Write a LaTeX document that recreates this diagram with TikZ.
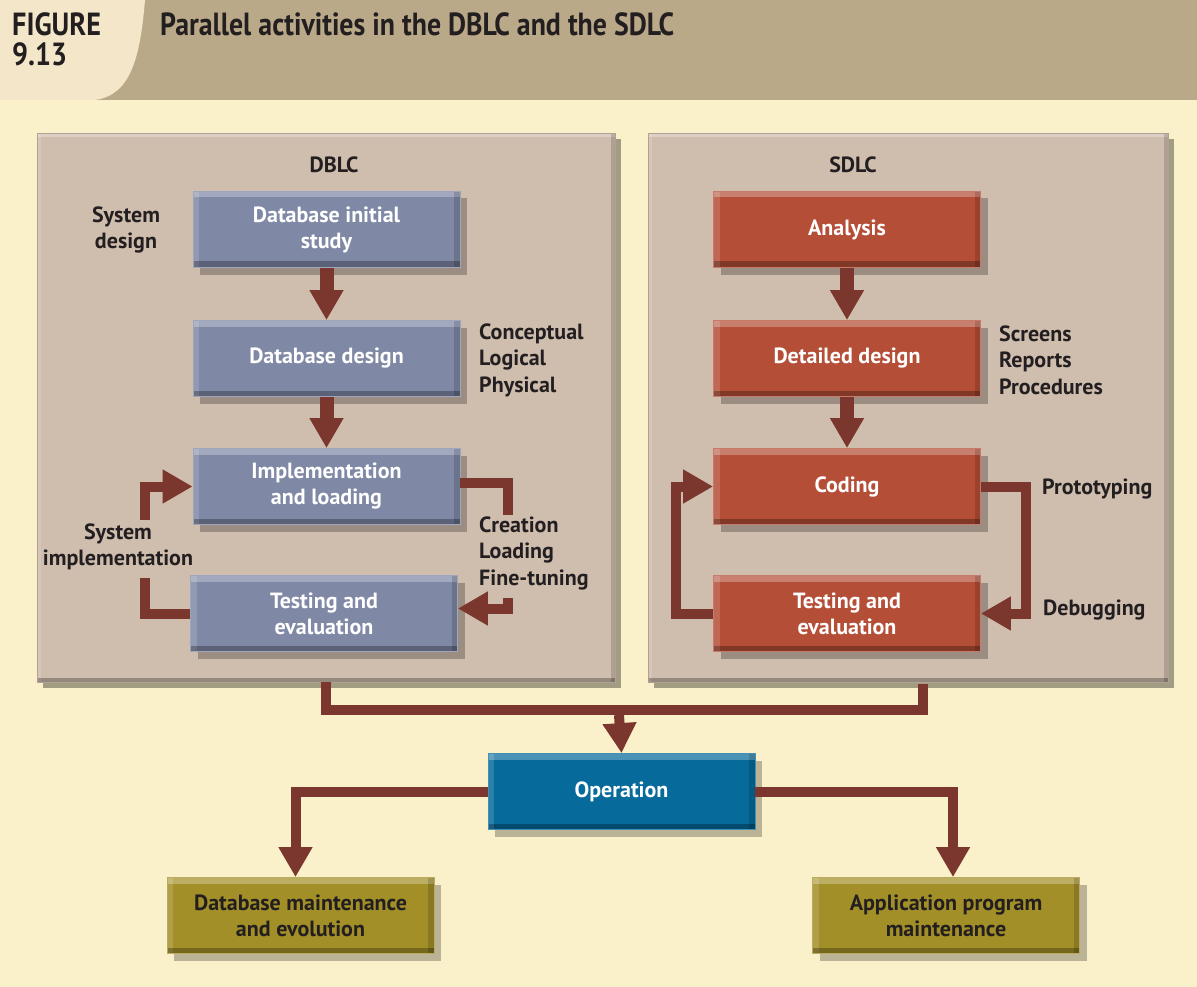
\documentclass[tikz,border=0pt]{standalone}
\usepackage{fontspec}
\setmainfont{PT Sans}
\usetikzlibrary{arrows.meta,shadows,calc}
\definecolor{bgc}{HTML}{FAF0C9}
\definecolor{hdr}{HTML}{BAA989}
\definecolor{hdrl}{HTML}{F3E6C9}
\definecolor{panelc}{HTML}{CFBDAE}
\definecolor{bluec}{HTML}{7F88A5}
\definecolor{redc}{HTML}{B54E37}
\definecolor{opc}{HTML}{066A9B}
\definecolor{olivec}{HTML}{A38F28}
\definecolor{arrc}{HTML}{7B372D}
\definecolor{txtc}{HTML}{231F20}
\begin{document}
\begin{tikzpicture}[x=1pt,y=-1pt,
  bevel/.style={path picture={
    \fill[white,opacity=0.28] (path picture bounding box.north west) rectangle ([yshift=-#1]path picture bounding box.north east);
    \fill[white,opacity=0.15] (path picture bounding box.north west) rectangle ([xshift=#1]path picture bounding box.south west);
    \fill[black,opacity=0.28] ([yshift=#1]path picture bounding box.south west) rectangle (path picture bounding box.south east);
    \fill[black,opacity=0.15] ([xshift=-#1]path picture bounding box.north east) rectangle (path picture bounding box.south east);
  }},
  bx/.style={fill=#1, draw=#1!75!white, line width=0.8pt, minimum width=267pt, minimum height=76pt,
    inner sep=0pt, text=white, font=\bfseries\fontsize{22}{26}\selectfont, align=center,
    drop shadow={shadow xshift=7pt, shadow yshift=-7pt, fill=black, opacity=0.25}, bevel=6pt},
  panel/.style={fill=panelc, draw=panelc!85!black, line width=0.8pt, inner sep=0pt,
    drop shadow={shadow xshift=6pt, shadow yshift=-6pt, fill=black, opacity=0.35}, bevel=4pt},
  lbl/.style={text=txtc, font=\bfseries\fontsize{22}{26.5}\selectfont, inner sep=0pt},
  hdrtxt/.style={anchor=base west, text=txtc, inner sep=0pt, font=\bfseries\fontsize{32}{30}\selectfont},
  conn/.style={draw=arrc, line width=10pt, line join=miter},
  vconn/.style={draw=arrc, line width=14pt},
  tipa/.style={-{Triangle[width=32pt,length=30pt]}}
]
\useasboundingbox (0,0) rectangle (1197,987);
\fill[bgc] (0,0) rectangle (1197,987);
\fill[hdr] (0,0) rectangle (1197,100);
\fill[hdrl] (0,0) -- (145,0) .. controls (140,60) and (130,95) .. (95,100) -- (0,100) -- cycle;
\node[hdrtxt] (fig) at (12,36) {\scalebox{0.88}[1]{FIGURE}};
\node[hdrtxt] (fignum) at (12,66) {\scalebox{0.88}[1]{9.13}};
\node[hdrtxt] (title) at (160,36) {\scalebox{0.87}[1]{Parallel activities in the DBLC and the SDLC}};

% panels
\node[panel, minimum width=578pt, minimum height=549pt] (dblc) at (326,407.5) {};
\node[panel, minimum width=520pt, minimum height=549pt] (sdlc) at (908,407.5) {};
\node[lbl] (dblct) at (334,165) {DBLC};
\node[lbl] (sdlct) at (853,165) {SDLC};

% DBLC boxes
\node[bx=bluec] (b1) at (326.5,229.5) {Database initial\\study};
\node[bx=bluec] (b2) at (326.5,358.5) {Database design};
\node[bx=bluec] (b3) at (326.5,486.5) {Implementation\\and loading};
\node[bx=bluec] (b4) at (324,613.5) {Testing and\\evaluation};
% SDLC boxes
\node[bx=redc] (s1) at (847,229.5) {Analysis};
\node[bx=redc] (s2) at (847,358.5) {Detailed design};
\node[bx=redc] (s3) at (847,486.5) {Coding};
\node[bx=redc] (s4) at (847,613.5) {Testing and\\evaluation};
% bottom boxes
\node[bx=opc] (op) at (621.5,791.5) {Operation};
\node[bx=olivec, text=txtc] (db) at (300.5,915.5) {Database maintenance\\and evolution};
\node[bx=olivec, text=txtc] (ap) at (946,915.5) {Application program\\maintenance};

% labels
\node[lbl, align=center] (sysd) at (126,230) {System\\design};
\node[lbl, align=left, anchor=west] (clp) at (479,360) {Conceptual\\Logical\\Physical};
\node[lbl, align=left, anchor=west] (srp) at (999,360) {Screens\\Reports\\Procedures};
\node[lbl, align=left, anchor=west] (clf) at (479,553) {Creation\\Loading\\Fine-tuning};
\node[lbl, align=center] (sysi) at (118,547) {System\\implementation};
\node[lbl, anchor=west] (proto) at (1042,489) {Prototyping};
\node[lbl, anchor=west] (debug) at (1043,610) {Debugging};

% vertical arrows
\draw[vconn, tipa] (b1.south) -- (b2.north);
\draw[vconn, tipa] (b2.south) -- (b3.north);
\draw[vconn, tipa] (s1.south) -- (s2.north);
\draw[vconn, tipa] (s2.south) -- (s3.north);

% DBLC loops
\coordinate (dlu) at (145,520);
\coordinate (dll) at (145,578);
\coordinate (dru) at (508,515);
\coordinate (drl) at (508,598);
\draw[conn, tipa] (dlu) |- (b3.west);
\draw[conn] (b4.west) -| (dll);
\draw[conn] ([yshift=4pt]b3.east) -| (dru);
\draw[conn, tipa] (drl) |- ([yshift=5pt]b4.east);

% SDLC loops
\coordinate (sl) at (676,550);
\coordinate (sr) at (1026,550);
\draw[conn, tipa] (s4.west) -| (sl) |- (s3.west);
\draw[conn, tipa] (s3.east) -| (sr) |- (s4.east);

% to operation
\coordinate (jn) at (619,710);
\coordinate (sd) at (923,684);
\draw[conn] (dblc.south) |- (jn) -| (sd);
\draw[conn, tipa] ([yshift=-5pt]jn) -- (op.north);
\draw[conn, tipa] (op.west) -| ([xshift=-5pt]db.north);
\draw[conn, tipa] (op.east) -| ([xshift=7pt]ap.north);
\end{tikzpicture}
\end{document}
